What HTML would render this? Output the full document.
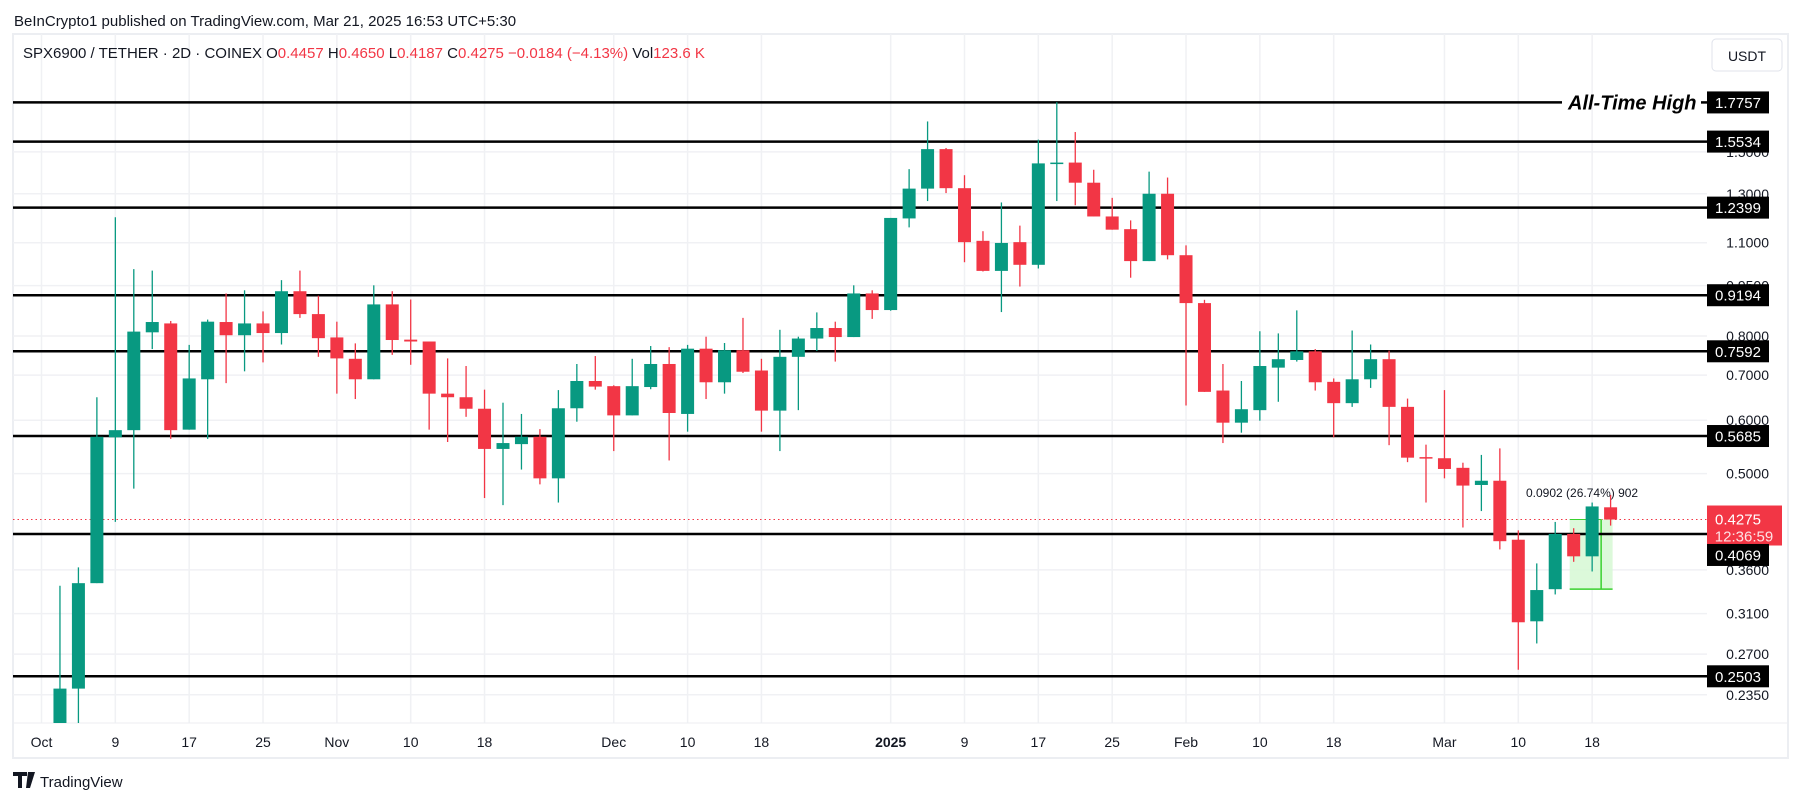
<!DOCTYPE html>
<html><head><meta charset="utf-8"><style>
body{margin:0;background:#fff;}
svg{display:block;font-family:"Liberation Sans",sans-serif;}
</style></head><body>
<svg id="c" width="1804" height="803" viewBox="0 0 1804 803" xmlns="http://www.w3.org/2000/svg">
<rect x="0" y="0" width="1804" height="803" fill="#fff"/>
<text x="14" y="26" font-size="15" fill="#131722">BeInCrypto1 published on TradingView.com, Mar 21, 2025 16:53 UTC+5:30</text>
<rect x="13" y="34" width="1775" height="724" fill="none" stroke="#eceef2" stroke-width="2"/>
<g id="grid"></g>
<g id="levels"></g>
<g id="candles"></g>
<g id="axis"></g>
<text x="23" y="58" font-size="15" fill="#131722">SPX6900 / TETHER · 2D · COINEX  O<tspan fill="#f23645">0.4457</tspan>  H<tspan fill="#f23645">0.4650</tspan>  L<tspan fill="#f23645">0.4187</tspan>  C<tspan fill="#f23645">0.4275</tspan>  <tspan fill="#f23645">−0.0184 (−4.13%)</tspan>  Vol<tspan fill="#f23645">123.6 K</tspan></text>
<rect x="1712" y="39" width="70" height="32" rx="4" fill="#fff" stroke="#e0e3eb"/>
<text x="1747" y="61" font-size="14" text-anchor="middle" fill="#131722">USDT</text>
<g>
<path d="M13 772h14v4h-5v12h-4v-12h-5z M28 772h7l-5 16h-4z" fill="#131722"/>
<circle cx="31" cy="776" r="2" fill="#131722"/>
<text x="40" y="787" font-size="15" fill="#131722">TradingView</text>
</g>
</svg>
<script>
const categoriesStart = "2024-10-03";
const open  = [0.211,0.240,0.344,0.566,0.580,0.810,0.835,0.581,0.690,0.839,0.802,0.835,0.808,0.932,0.862,0.796,0.740,0.690,0.891,0.790,0.785,0.657,0.649,0.624,0.544,0.553,0.567,0.492,0.625,0.686,0.674,0.610,0.672,0.727,0.613,0.766,0.683,0.762,0.711,0.620,0.745,0.793,0.822,0.797,0.925,0.874,1.195,1.323,1.514,1.325,1.107,0.999,1.102,1.020,1.442,1.446,1.350,1.203,1.152,1.033,1.300,1.054,0.895,0.664,0.595,0.621,0.718,0.737,0.759,0.684,0.636,0.690,0.739,0.628,0.529,0.527,0.510,0.481,0.488,0.399,0.302,0.337,0.407,0.377,0.4457];
const high  = [0.341,0.363,0.649,1.20,1.005,1.00,0.842,0.776,0.846,0.925,0.935,0.870,0.968,1.00,0.918,0.840,0.780,0.951,0.932,0.906,0.785,0.741,0.722,0.666,0.637,0.613,0.582,0.665,0.727,0.747,0.676,0.740,0.773,0.770,0.776,0.798,0.781,0.851,0.740,0.817,0.798,0.867,0.840,0.951,0.935,1.197,1.414,1.664,1.520,1.385,1.144,1.262,1.166,1.564,1.777,1.605,1.411,1.282,1.187,1.402,1.374,1.090,0.905,0.727,0.686,0.813,0.807,0.873,0.765,0.692,0.815,0.777,0.761,0.646,0.552,0.665,0.519,0.533,0.545,0.412,0.368,0.424,0.415,0.453,0.4650];
const low   = [0.208,0.205,0.344,0.424,0.475,0.765,0.563,0.581,0.563,0.681,0.709,0.731,0.777,0.851,0.745,0.657,0.645,0.690,0.750,0.725,0.581,0.557,0.607,0.460,0.449,0.507,0.482,0.453,0.597,0.666,0.540,0.610,0.667,0.523,0.577,0.645,0.657,0.705,0.577,0.540,0.621,0.760,0.733,0.797,0.848,0.872,1.159,1.268,1.303,1.029,0.997,0.868,0.947,1.007,1.268,1.250,1.203,1.150,0.976,1.033,1.039,0.631,0.661,0.555,0.575,0.599,0.639,0.733,0.664,0.566,0.628,0.670,0.551,0.520,0.453,0.492,0.416,0.440,0.386,0.256,0.280,0.331,0.370,0.358,0.4187];
const close = [0.240,0.344,0.567,0.580,0.812,0.839,0.580,0.692,0.840,0.802,0.835,0.808,0.932,0.862,0.794,0.741,0.690,0.891,0.789,0.785,0.657,0.649,0.624,0.544,0.555,0.567,0.492,0.625,0.686,0.673,0.610,0.674,0.727,0.615,0.766,0.683,0.762,0.708,0.620,0.745,0.793,0.822,0.797,0.925,0.874,1.197,1.323,1.514,1.325,1.102,0.999,1.099,1.020,1.442,1.446,1.350,1.203,1.150,1.033,1.300,1.054,0.895,0.661,0.595,0.623,0.722,0.739,0.759,0.683,0.636,0.690,0.739,0.628,0.528,0.528,0.508,0.480,0.488,0.397,0.301,0.336,0.407,0.377,0.447,0.4275];
const levelValues = [1.7757,1.5534,1.2399,0.9194,0.7592,0.5685,0.4069,0.2503];
const priceTicks = [1.5,1.3,1.1,0.95,0.8,0.7,0.6,0.5,0.36,0.31,0.27,0.235];
const timeLabels = ["Oct","9","17","25","Nov","10","18","Dec","10","18","2025","9","17","25","Feb","10","18","Mar","10","18"];
const timeLabelDays = [0,8,16,24,32,40,48,62,70,78,92,100,108,116,124,132,140,152,160,168];
const lastPrice = 0.4275;

const NS="http://www.w3.org/2000/svg";
const PL=13, PR=1707, PT=34, PB=723;
function xDay(d){return 41.5+9.23*d;}
function xIdx(i){return xDay(2+2*i);}
function yP(p){return 676.3-292.9*(Math.log(p)+1.3851);}
function mk(tag,attrs,parent){const e=document.createElementNS(NS,tag);for(const k in attrs)e.setAttribute(k,attrs[k]);parent.appendChild(e);return e;}
const grid=document.getElementById('grid'),lv=document.getElementById('levels'),cg=document.getElementById('candles'),ax=document.getElementById('axis');

priceTicks.forEach(p=>{const y=yP(p);
  const l=mk('line',{x1:PL,x2:PR,y1:y,y2:y,stroke:'#f0f1f4','stroke-width':1.5},grid);
  
  
  const t=mk('text',{x:1769,y:y+5,'font-size':14,'text-anchor':'end',fill:'#131722'},ax);
  t.textContent=p.toFixed(4);
  
  
});
timeLabels.forEach((s,k)=>{const x=xDay(timeLabelDays[k]);
  const l=mk('line',{x1:x,x2:x,y1:PT,y2:PB,stroke:'#f0f1f4','stroke-width':1.5},grid);
  
  
  const t=mk('text',{x:x,y:747,'font-size':14,'text-anchor':'middle',fill:'#131722','font-weight':s==='2025'?'bold':'normal'},ax);
  t.textContent=s;
  
  
});
mk('line',{x1:PL,x2:1788,y1:PB,y2:PB,stroke:'#eceef2','stroke-width':1},grid);

const lpY=yP(lastPrice);
const dl=mk('line',{x1:PL,x2:PR,y1:lpY,y2:lpY,stroke:'#f23645','stroke-width':1,'stroke-dasharray':'1.5 3'},grid);



const mx1=xIdx(82)-4, mx2=xIdx(84)+2, myB=yP(0.337);
const mr=mk('rect',{x:mx1,y:yP(0.4275),width:mx2-mx1,height:myB-yP(0.4275),fill:'#d6f8d3',opacity:0.85},grid);


mk('line',{x1:mx1,x2:mx2,y1:myB,y2:myB,stroke:'#3ad12f','stroke-width':1.5},grid);
mk('line',{x1:mx1,x2:xIdx(83)+9,y1:yP(0.4275),y2:yP(0.4275),stroke:'#3ad12f','stroke-width':1},grid);
mk('line',{x1:xIdx(83)+9,x2:xIdx(83)+9,y1:yP(0.4275),y2:myB,stroke:'#3ad12f','stroke-width':1.5},grid);
const mt=mk('text',{x:1526,y:497,'font-size':12,fill:'#131722'},ax);
mt.textContent='0.0902 (26.74%) 902';



levelValues.forEach((v,k)=>{const y=yP(v);
  const l=mk('line',{x1:PL,x2:k===0?1562:PR,y1:y,y2:y,stroke:'#000','stroke-width':2.5},lv);
  
  
  const r=mk('rect',{x:1707,y:y-11,width:62,height:22,fill:'#000'},ax);
  
  
  const t=mk('text',{x:1738,y:y+5.5,'font-size':15,'text-anchor':'middle',fill:'#fff'},ax);
  t.textContent=v.toFixed(4);
  
  
});
const ath=mk('text',{x:1568,y:yP(levelValues[0])+7,'font-size':20,'font-style':'italic','font-weight':'bold',fill:'#000'},lv);
ath.textContent='All-Time High';


mk('line',{x1:1701,x2:1707,y1:yP(levelValues[0]),y2:yP(levelValues[0]),stroke:'#000','stroke-width':2.5},lv);

const clip=mk('clipPath',{id:'pc'},document.getElementById('c'));
mk('rect',{x:PL,y:PT,width:PR-PL,height:PB-PT},clip);
cg.setAttribute('clip-path','url(#pc)');
open.forEach((o,i)=>{const c=close[i],x=xIdx(i),col=c>=o?'#089981':'#f23645';
  const g=mk('g',{},cg);
  
  
  mk('line',{x1:x,x2:x,y1:yP(high[i]),y2:yP(low[i]),stroke:col,'stroke-width':1.3},g);
  const yt=Math.min(yP(o),yP(c)),yb=Math.max(yP(o),yP(c));
  mk('rect',{x:x-6.5,y:yt,width:13,height:Math.max(1.5,yb-yt),fill:col},g);
});

const lb=mk('rect',{x:1707,y:lpY-14,width:75,height:40,fill:'#f23645'},ax);


const lt=mk('text',{x:1738,y:lpY+5,'font-size':15,'text-anchor':'middle',fill:'#fff'},ax);
lt.textContent=lastPrice.toFixed(4);


const ct=mk('text',{x:1744,y:lpY+22,'font-size':15,'text-anchor':'middle',fill:'#fde2e4'},ax);
ct.textContent='12:36:59';


const y4=yP(levelValues[6]);
const r4=mk('rect',{x:1707,y:y4+10,width:62,height:22,fill:'#000'},ax);


const t4=mk('text',{x:1738,y:y4+26.5,'font-size':15,'text-anchor':'middle',fill:'#fff'},ax);
t4.textContent=levelValues[6].toFixed(4);


</script>
</body></html>
